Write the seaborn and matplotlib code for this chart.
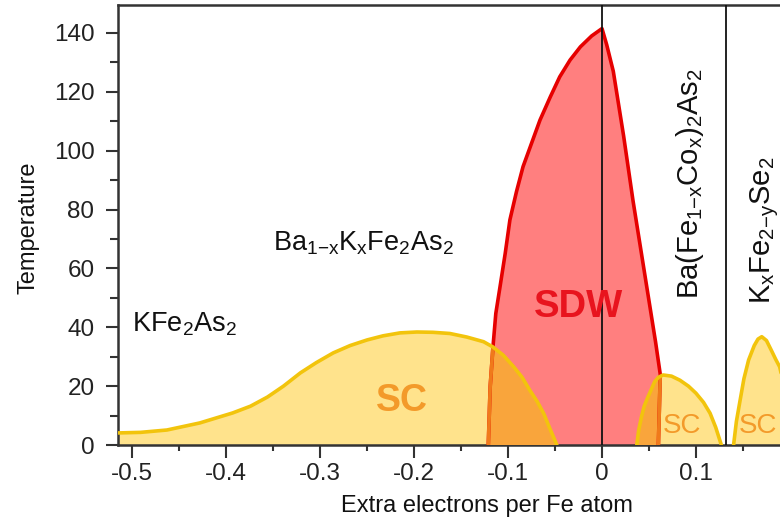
import numpy as np
import matplotlib
matplotlib.use("Agg")
import matplotlib.pyplot as plt
import seaborn as sns
from matplotlib.patches import Polygon
from matplotlib.ticker import MultipleLocator

# ---- data ----
sc_hole_x = [-0.516, -0.491, -0.463, -0.428, -0.393, -0.374, -0.356, -0.339, -0.321,
             -0.304, -0.286, -0.268, -0.25, -0.233, -0.215, -0.197, -0.18, -0.162,
             -0.144, -0.126, -0.116, -0.105, -0.094, -0.085, -0.077, -0.069, -0.062,
             -0.056, -0.048]
sc_hole_t = [4.1, 4.3, 5.1, 7.5, 10.9, 13.2, 16.3, 20.0, 24.5,
             28.0, 31.3, 33.8, 35.7, 37.1, 38.1, 38.4, 38.3, 37.9,
             36.7, 35.1, 33.3, 30.5, 26.6, 23.0, 18.7, 14.8, 10.7,
             6.0, 0.0]

sdw_x = [-0.121, -0.119, -0.116, -0.113, -0.1085, -0.103, -0.098, -0.091, -0.084,
         -0.075, -0.066, -0.055, -0.045, -0.034, -0.023, -0.011, 0.0,
         0.005, 0.012, 0.023, 0.033, 0.042, 0.051, 0.057, 0.062, 0.061, 0.060]
sdw_t = [0.0, 19.8, 33.4, 44.7, 53.8, 65.1, 76.5, 86.1, 94.6,
         102.5, 110.4, 118.3, 125.1, 130.8, 135.3, 139.0, 141.5,
         136.0, 127.0, 105.0, 83.0, 65.0, 47.0, 35.0, 24.0, 12.0, 0.0]

sc_co_x = [0.037, 0.039, 0.042, 0.045, 0.049, 0.056, 0.060, 0.065, 0.074, 0.083,
           0.092, 0.100, 0.108, 0.115, 0.121, 0.127]
sc_co_t = [0.0, 5.0, 9.6, 13.3, 16.4, 21.5, 23.0, 23.8, 23.4, 22.0,
           20.0, 17.6, 14.5, 10.8, 6.0, 0.0]

sc_se_x = [0.140, 0.143, 0.147, 0.151, 0.156, 0.162, 0.166, 0.170, 0.175, 0.180,
           0.185, 0.189, 0.198, 0.205]
sc_se_t = [0.0, 8.0, 15.3, 22.5, 28.9, 33.8, 36.0, 36.8, 35.5, 32.3,
           29.0, 26.6, 14.0, 0.0]

boundary_x = [0.0, 0.132]

x_ticks = [-0.5, -0.4, -0.3, -0.2, -0.1, 0.0, 0.1]
x_tick_labels = ["-0.5", "-0.4", "-0.3", "-0.2", "-0.1", "0", "0.1"]
y_ticks = [0, 20, 40, 60, 80, 100, 120, 140]
y_tick_labels = ["0", "20", "40", "60", "80", "100", "120", "140"]

# ---- style ----
sns.set_theme(style="ticks")
plt.rcParams["font.family"] = ["Liberation Sans", "DejaVu Sans"]
plt.rcParams["mathtext.fontset"] = "custom"
plt.rcParams["mathtext.rm"] = "Liberation Sans"
plt.rcParams["mathtext.it"] = "Liberation Sans"
plt.rcParams["mathtext.default"] = "regular"

sc_fill = "#FFE38C"
sc_edge = "#F2C40C"
sdw_fill = "#FF7F7F"
sdw_edge = "#E60000"
overlap_fill = "#F9A53C"
overlap_edge = "#F07A1A"
sc_text = "#F39A2A"
sdw_text = "#E8141E"
axis_col = "#333333"

fig = plt.figure(figsize=(7.8, 5.23), dpi=100)
ax = fig.add_axes([0.1513, 0.1491, 0.8487, 0.8413])

# fills
ax.fill_between(sc_hole_x, 0, sc_hole_t, color=sc_fill, lw=0, zorder=1)
ax.fill_between(sc_co_x, 0, sc_co_t, color=sc_fill, lw=0, zorder=1)
ax.fill_between(sc_se_x, 0, sc_se_t, color=sc_fill, lw=0, zorder=1)
ax.fill_between(sdw_x, 0, sdw_t, color=sdw_fill, lw=0, zorder=2)

sdw_patch = Polygon(np.column_stack([sdw_x, sdw_t]), closed=True, transform=ax.transData)
sc_hole_patch = Polygon(np.column_stack([sc_hole_x + [sc_hole_x[-1], sc_hole_x[0]],
                                         sc_hole_t + [0, 0]]),
                        closed=True, transform=ax.transData)
sc_co_patch = Polygon(np.column_stack([sc_co_x, sc_co_t]), closed=True, transform=ax.transData)

ov1 = ax.fill_between(sc_hole_x, 0, sc_hole_t, color=overlap_fill, lw=0, zorder=3)
ov1.set_clip_path(sdw_patch)
ov2 = ax.fill_between(sc_co_x, 0, sc_co_t, color=overlap_fill, lw=0, zorder=3)
ov2.set_clip_path(sdw_patch)

# outlines
sns.lineplot(x=sdw_x, y=sdw_t, sort=False, color=sdw_edge, lw=2.6, ax=ax, zorder=4)
for patch in (sc_hole_patch, sc_co_patch):
    ln, = ax.plot(sdw_x, sdw_t, color=overlap_edge, lw=2.6, zorder=5)
    ln.set_clip_path(patch)
sns.lineplot(x=sc_hole_x, y=sc_hole_t, sort=False, color=sc_edge, lw=2.6, ax=ax, zorder=6)
sns.lineplot(x=sc_co_x, y=sc_co_t, sort=False, color=sc_edge, lw=2.6, ax=ax, zorder=6)
sns.lineplot(x=sc_se_x, y=sc_se_t, sort=False, color=sc_edge, lw=2.6, ax=ax, zorder=6)

for bx in boundary_x:
    ax.axvline(bx, color="#111111", lw=1.3, zorder=7)

# texts
ax.text(-0.5, 41, r"KFe$_2$As$_2$", fontsize=19.5, ha="left", va="center", color="#111111")
ax.text(-0.35, 68.6, r"Ba$_{1{-}x}$K$_x$Fe$_2$As$_2$",
        fontsize=19.5, ha="left", va="center", color="#111111")
ax.text(-0.213, 14.8, "SC", fontsize=27, fontweight="bold", color=sc_text,
        ha="center", va="center", zorder=8)
ax.text(-0.025, 47, "SDW", fontsize=27.5, fontweight="bold", color=sdw_text,
        ha="center", va="center", zorder=8)
ax.text(0.085, 6.5, "SC", fontsize=20, color=sc_text, ha="center", va="center", zorder=8)
ax.text(0.1665, 6.5, "SC", fontsize=20, color=sc_text, ha="center", va="center", zorder=8)
ax.text(0.094, 89, r"Ba(Fe$_{1{-}x}$Co$_x$)$_2$As$_2$", fontsize=21, rotation=90,
        ha="center", va="center", color="#111111")
ax.text(0.173, 48, r"K$_x$Fe$_{2{-}y}$Se$_2$", fontsize=21, rotation=90,
        ha="center", va="bottom", color="#111111")

# axes
ax.set_xlim(-0.515, 0.1894)
ax.set_ylim(0, 149.5)
ax.set_xticks(x_ticks)
ax.set_xticklabels(x_tick_labels)
ax.set_yticks(y_ticks)
ax.set_yticklabels(y_tick_labels)
ax.xaxis.set_minor_locator(MultipleLocator(0.05))
ax.yaxis.set_minor_locator(MultipleLocator(10))
ax.tick_params(axis="both", which="major", direction="out", length=9, width=1.5,
               color=axis_col, labelsize=17.5, labelcolor="#222222", pad=4)
ax.tick_params(axis="x", which="minor", direction="out", length=4, width=1.5, color=axis_col)
ax.tick_params(axis="y", which="minor", direction="out", length=6, width=1.5, color=axis_col)
ax.tick_params(axis="y", which="major", pad=8)

for side in ("left", "bottom", "top"):
    ax.spines[side].set_visible(True)
    ax.spines[side].set_color(axis_col)
    ax.spines[side].set_linewidth(1.8)
ax.spines["right"].set_visible(False)

ax.set_xlabel("Extra electrons per Fe atom", fontsize=17, color="#111111")
ax.set_ylabel("Temperature", fontsize=17, color="#111111")
ax.xaxis.set_label_coords(0.557, -0.114)
ax.yaxis.set_label_coords(-0.118, 0.493)

fig.savefig("out.png", dpi=100)
